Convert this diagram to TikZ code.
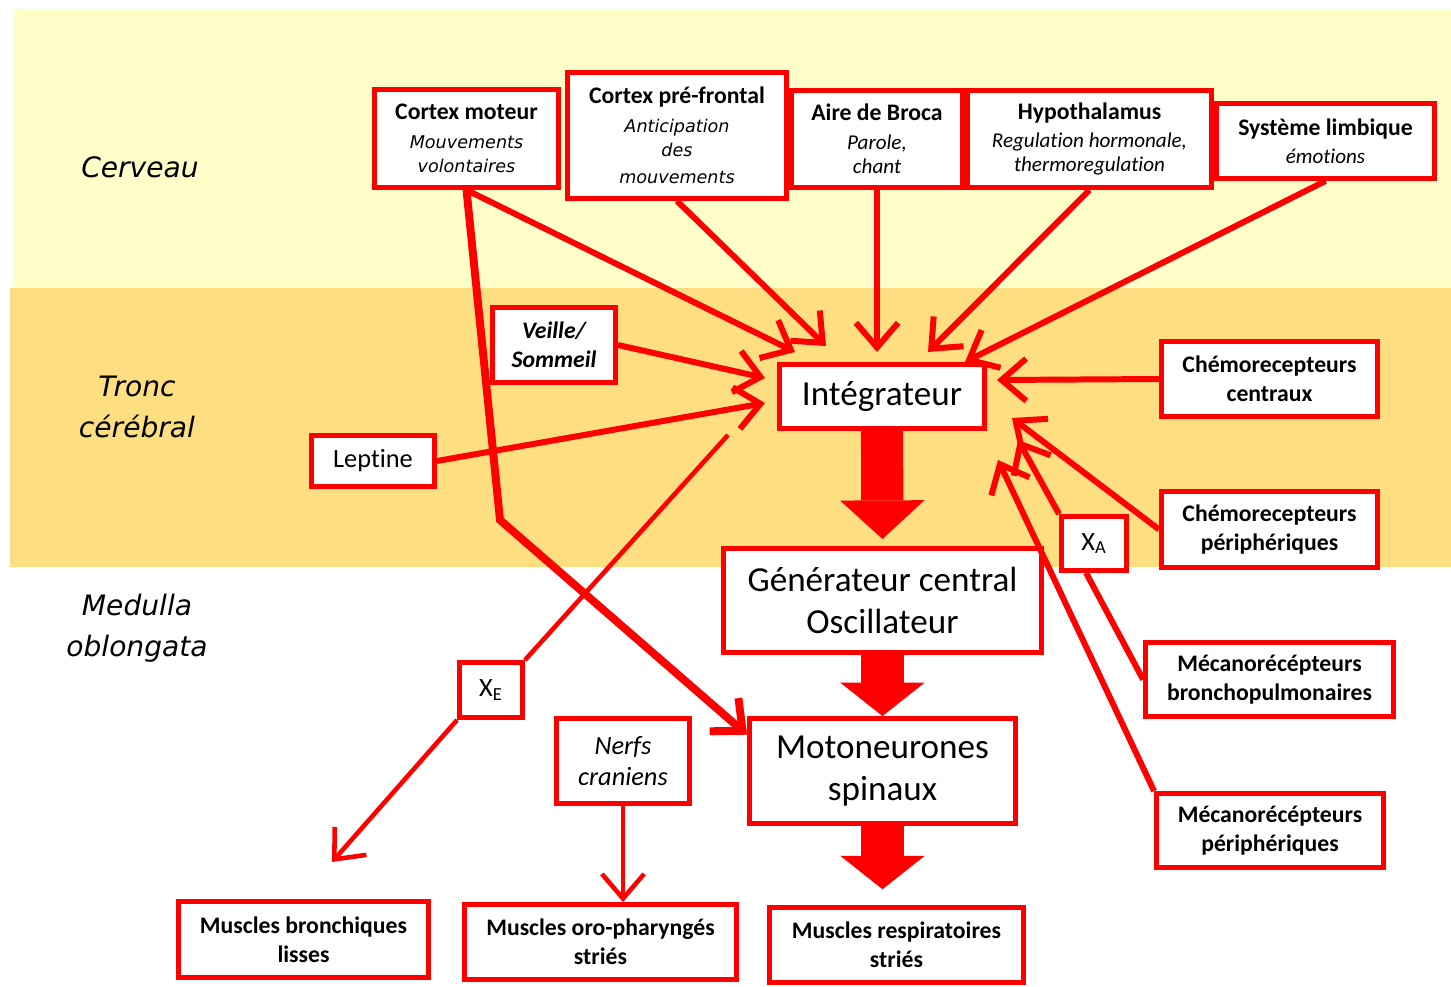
\documentclass[tikz,border=0pt]{standalone}
\usepackage{fontspec}
\setmainfont{Carlito}[Ligatures=NoCommon]
\newfontfamily\verdfont{DejaVu Sans}
\usetikzlibrary{arrows.meta}

\definecolor{bandtop}{RGB}{255,253,200}
\definecolor{bandmid}{RGB}{253,222,128}

\newcommand{\vsub}[1]{{\verdfont\itshape\fontsize{10}{13.6}\selectfont #1}}
\newcommand{\csub}[1]{{\itshape\fontsize{12}{13.6}\selectfont #1}}

\tikzset{
  box/.style={draw=red, line width=2.8pt, fill=white, inner sep=0pt, align=center,
    font=\fontsize{13.5}{13.6}\selectfont},
  boldbox/.style={box, font=\fontsize{13.5}{16.4}\selectfont\bfseries},
  bigbox/.style={box, font=\fontsize{20}{23.8}\selectfont},
  region/.style={align=center, font=\verdfont\itshape\fontsize{16}{23.5}\selectfont},
  wire/.style={draw=red, line width=3.4pt},
  link/.style={wire, -{Straight Barb[length=14pt,width=24pt]}},
  thinwire/.style={draw=red, line width=2.6pt},
  thinlink/.style={thinwire, -{Straight Barb[length=14pt,width=24pt]}},
  bigarrow/.style={draw=red, line width=24pt, -{Triangle[length=19pt,width=48pt,line width=0pt]}}
}

\begin{document}
\begin{tikzpicture}[x=0.02cm, y=-0.02cm]
\useasboundingbox (0,0) rectangle (1451,987);

% bandes
\fill[bandtop] (13,9) rectangle (1451,288);
\fill[bandmid] (10,288) rectangle (1451,567);

\node[region] (cerv) at (140,167) {Cerveau};
\node[region] (tronc) at (137,407) {Tronc\\cérébral};
\node[region] (medul) at (137,628) {Medulla\\oblongata};

% cerveau
\node[box, minimum width=3.68cm, minimum height=1.96cm] (cmot) at (466.5,138.5)
  {\textbf{Cortex moteur}\\[2.8pt]\vsub{Mouvements}\\\vsub{volontaires}};
\node[box, minimum width=4.38cm, minimum height=2.52cm] (cpf) at (677,135.5)
  {\textbf{Cortex pré-frontal}\\[2.8pt]\vsub{Anticipation}\\\vsub{des}\\[1.7pt]\vsub{mouvements}};
\node[box, minimum width=3.42cm, minimum height=1.94cm] (broca) at (877,139)
  {\textbf{Aire de Broca}\\[2.8pt]\csub{Parole,}\\\csub{chant}};
\node[box, minimum width=4.88cm, minimum height=1.94cm] (hypo) at (1089.5,139)
  {\textbf{Hypothalamus}\\[2.8pt]\csub{Regulation hormonale,}\\\csub{thermoregulation}};
\node[box, minimum width=4.36cm, minimum height=1.50cm] (limb) at (1325.5,141)
  {\textbf{Système limbique}\\[2.3pt]\csub{émotions}};

% tronc
\node[boldbox, font=\fontsize{13.5}{16.4}\selectfont\bfseries\itshape,
  minimum width=2.46cm, minimum height=1.50cm] (veille) at (554,345) {Veille/\\Sommeil};
\node[box, font=\fontsize{15}{18}\selectfont, minimum width=2.46cm, minimum height=1.02cm]
  (lept) at (373,461) {Leptine};
\node[bigbox, minimum width=4.10cm, minimum height=1.28cm] (integ) at (882,396.5) {Intégrateur};
\node[boldbox, minimum width=4.32cm, minimum height=1.50cm] (chc) at (1269.5,379)
  {Chémorecepteurs\\centraux};
\node[boldbox, minimum width=4.32cm, minimum height=1.52cm] (chp) at (1269.5,529.5)
  {Chémorecepteurs\\périphériques};
\node[box, font=\fontsize{15}{18}\selectfont, minimum width=1.30cm, minimum height=1.08cm]
  (xa) at (1094,543.5) {X\textsubscript{A}};

% medulla
\node[bigbox, minimum width=6.36cm, minimum height=2.08cm] (gen) at (882.5,600.5)
  {Générateur central\\Oscillateur};
\node[bigbox, minimum width=5.32cm, minimum height=2.10cm] (moto) at (882.5,771)
  {Motoneurones\\spinaux};
\node[boldbox, minimum width=4.96cm, minimum height=1.48cm] (mecb) at (1269.5,679.5)
  {Mécanorécépteurs\\bronchopulmonaires};
\node[boldbox, minimum width=4.54cm, minimum height=1.48cm] (mecp) at (1270,830.5)
  {Mécanorécépteurs\\périphériques};
\node[box, font=\fontsize{15}{18}\selectfont, minimum width=1.26cm, minimum height=1.10cm]
  (xe) at (491,690) {X\textsubscript{E}};
\node[box, font=\fontsize{15}{18}\selectfont\itshape, minimum width=2.66cm, minimum height=1.70cm]
  (nerfs) at (623,761) {Nerfs\\craniens};
\node[boldbox, minimum width=5.00cm, minimum height=1.52cm] (mbr) at (303.5,939.5)
  {Muscles bronchiques\\lisses};
\node[boldbox, minimum width=5.44cm, minimum height=1.50cm] (mop) at (600.5,942)
  {Muscles oro-pharyngés\\striés};
\node[boldbox, minimum width=5.08cm, minimum height=1.50cm] (mre) at (896.5,945)
  {Muscles respiratoires\\striés};

% bouts libres
\coordinate (t1) at (795,352);
\coordinate (t2) at (826,346);
\coordinate (t3) at (877,352);
\coordinate (t4) at (928,352);
\coordinate (t5) at (965,362);
\coordinate (t6) at (765,378);
\coordinate (t7) at (765,403);
\coordinate (t8) at (997,380);
\coordinate (t9) at (1012,418);
\coordinate (t10) at (1018,440);
\coordinate (t11) at (998,460);
\coordinate (xeend) at (728,435);
\coordinate (t13) at (332,862);
\coordinate (bend) at (500,520);

\draw[link] (cmot.south) -- (t1);
\draw[link] (cpf.south) -- (t2);
\draw[link] (broca.south) -- (t3);
\draw[link] (hypo.south) -- (t4);
\draw[link] (limb.south) -- (t5);
\draw[link] (veille.east) -- (t6);
\draw[link] (lept.east) -- (t7);
\draw[link] (chc.west) -- (t8);
\draw[link] (chp.west) -- (t9);
\draw[wire] (mecb.west) -- (xa.-105);
\draw[link] (xa.north west) -- (t10);
\draw[link] (mecp.north west) -- (t11);
\draw[wire, line width=4.5pt, -{Straight Barb[length=14pt,width=25pt]}]
  (cmot.south) -- (bend) -- (moto.165);
\draw[thinwire] (xeend) -- (xe.north east);
\draw[thinlink] (xe.south west) -- (t13);
\draw[thinlink] (nerfs.south) -- (nerfs.south |- mop.north);

\draw[bigarrow, -{Triangle[length=22pt,width=48pt,line width=0pt]}, shorten >=4pt]
  (integ.south) -- (gen.north);
\draw[bigarrow] (gen.south) -- (moto.north);
\draw[bigarrow, shorten >=9pt] (moto.south) -- (moto.south |- mre.north);
\end{tikzpicture}
\end{document}
